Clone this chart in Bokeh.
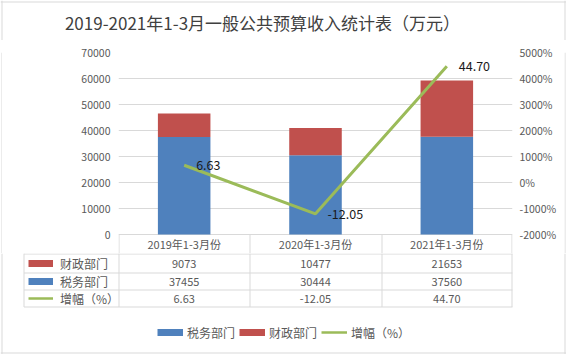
from bokeh.plotting import figure
from bokeh.layouts import column, row
from bokeh.models import (Range1d, LinearAxis, FixedTicker, ColumnDataSource, LabelSet, Label,
                          Legend, LegendItem, Span, NumeralTickFormatter)
from bokeh.core.properties import value
from bokeh.embed import file_html
from bokeh.resources import INLINE

# ---------------- data ----------------
title_text = "2019-2021年1-3月一般公共预算收入统计表（万元）"
categories = ["2019年1-3月份", "2020年1-3月份", "2021年1-3月份"]
tax = [37455, 30444, 37560]          # 税务部门
finance = [9073, 10477, 21653]       # 财政部门
growth = [6.63, -12.05, 44.70]       # 增幅（%）
name_tax = "税务部门"
name_fin = "财政部门"
name_growth = "增幅（%）"
left_ticks = [0, 10000, 20000, 30000, 40000, 50000, 60000, 70000]
right_ticks = [-20, -10, 0, 10, 20, 30, 40, 50]   # shown as percent

# ---------------- layout (pixels) ----------------
W, H = 566, 354
FL, FR, FT, FB = 118, 512, 52, 234      # chart frame (value area)
TITLE_H = 40
TABLE_TOP = 253                          # bottom of header row
FONT = "Noto Sans CJK SC"
BLUE, RED, GREEN = "#4F81BD", "#C0504D", "#9BBB59"
GREY_TXT = "#595959"
GRID = "#D9D9D9"
BORDER = "#D9D9D9"

n = len(categories)
xs = list(range(n))


def X(px):
    return -0.5 + (px - FL) * n / (FR - FL)


def Y(py):
    return (FB - py) * (left_ticks[-1] - left_ticks[0]) / (FB - FT)


def YP(py):
    return right_ticks[0] + (FB - py) * (right_ticks[-1] - right_ticks[0]) / (FB - FT)


def blank_fig(w, h, xr, yr):
    f = figure(width=w, height=h, x_range=xr, y_range=yr, output_backend="svg",
               toolbar_location=None, x_axis_location=None, y_axis_location=None,
               min_border_left=0, min_border_right=0, min_border_top=0,
               min_border_bottom=0, background_fill_color="white",
               border_fill_color="white")
    f.outline_line_color = None
    f.grid.visible = False
    return f


# ---------------- title ----------------
tf = blank_fig(W, TITLE_H, Range1d(0, W), Range1d(TITLE_H, 0))
tf.add_layout(Label(x=262, y=22, text=title_text, text_align="center",
                    text_baseline="middle", text_font=FONT, text_font_size="17px",
                    text_color="#404040"))
tf.add_layout(Span(location=1.5, dimension="width", line_color=BORDER, line_width=1))
tf.add_layout(Span(location=1.5, dimension="height", line_color=BORDER, line_width=1))
tf.add_layout(Span(location=W - 1.5, dimension="height", line_color=BORDER, line_width=1))

# ---------------- chart ----------------
CH = TABLE_TOP - TITLE_H
STRIP = 2
p = figure(width=W - 2 * STRIP, height=CH, x_range=Range1d(-0.5, n - 0.5),
           y_range=Range1d(Y(TABLE_TOP), left_ticks[-1]),
           output_backend="svg", toolbar_location=None, x_axis_location=None,
           min_border_left=FL - STRIP, min_border_right=W - STRIP - FR,
           min_border_top=FT - TITLE_H, min_border_bottom=0,
           background_fill_color="white", border_fill_color="white")
p.outline_line_color = None
p.xgrid.visible = False
p.ygrid.ticker = FixedTicker(ticks=left_ticks)
p.ygrid.grid_line_color = GRID

p.yaxis.ticker = FixedTicker(ticks=left_ticks)
p.yaxis.formatter = NumeralTickFormatter(format="0")
p.extra_y_ranges = {"pct": Range1d(YP(TABLE_TOP), right_ticks[-1])}
raxis = LinearAxis(y_range_name="pct", ticker=FixedTicker(ticks=right_ticks),
                   formatter=NumeralTickFormatter(format="0%"))
p.add_layout(raxis, "right")
for ax in (p.yaxis[0], raxis):
    ax.axis_line_color = None
    ax.major_tick_line_color = None
    ax.minor_tick_line_color = None
    ax.major_tick_out = 0
    ax.major_tick_in = 0
    ax.minor_tick_out = 0
    ax.major_label_text_color = GREY_TXT
    ax.major_label_text_font = FONT
    ax.major_label_text_font_size = "10.5px"
p.yaxis[0].major_label_standoff = 8
raxis.major_label_standoff = 7

src = ColumnDataSource(dict(x=xs, tax=tax, finance=finance, growth=growth,
                            growth_txt=[f"{g:.2f}" for g in growth]))
r_tax, r_fin = p.vbar_stack(["tax", "finance"], x="x", width=0.4, color=[BLUE, RED],
                            line_color=None, source=src)
r_line = p.line(x="x", y="growth", y_range_name="pct", line_color=GREEN,
                line_width=3, source=src)
p.add_layout(LabelSet(x="x", y="growth", text="growth_txt", y_range_name="pct",
                      x_offset=12, text_baseline="middle", text_align="left",
                      text_font=value(FONT), text_font_size="12.5px",
                      text_color="#1a1a1a", source=src))

# header row of the data table (category labels)
col_edges = [round(FL + (FR - FL) * i / n) + 0.5 for i in range(n + 1)]
col_edges[-1] = FR - 0.5
hdr_src = ColumnDataSource(dict(x=xs, y=[Y((FB + TABLE_TOP) / 2)] * n, text=categories))
p.text(x="x", y="y", text="text", source=hdr_src, text_align="center",
       text_baseline="middle", text_font=value(FONT), text_font_size="11px",
       text_color=GREY_TXT)
p.segment(x0=[X(c) for c in col_edges], x1=[X(c) for c in col_edges],
          y0=[Y(FB)] * len(col_edges), y1=[Y(TABLE_TOP + 1)] * len(col_edges),
          line_color=GRID, line_width=1)

sl = blank_fig(STRIP, CH, Range1d(0, STRIP), Range1d(0, 1))
sl.add_layout(Span(location=1.5, dimension="height", line_color=BORDER, line_width=1))
sr = blank_fig(STRIP, CH, Range1d(W - STRIP, W), Range1d(0, 1))
sr.add_layout(Span(location=W - 1.5, dimension="height", line_color=BORDER, line_width=1))

# ---------------- data table rows + legend ----------------
BH = H - TABLE_TOP
bf = blank_fig(W, BH, Range1d(X(0), X(W)), Range1d(H, TABLE_TOP))
row_edges = [253.5, 272.5, 289.5, 306.5]
row_centers = [(row_edges[i] + row_edges[i + 1]) / 2 for i in range(3)]
LEFT_COL = 23.5

vals_x, vals_y, vals_t = [], [], []
for ri, rowvals in enumerate([[str(v) for v in finance], [str(v) for v in tax],
                              [f"{g:.2f}" for g in growth]]):
    for ci, t in enumerate(rowvals):
        vals_x.append(xs[ci])
        vals_y.append(row_centers[ri])
        vals_t.append(t)
val_src = ColumnDataSource(dict(x=vals_x, y=vals_y, text=vals_t))
bf.text(x="x", y="y", text="text", source=val_src, text_align="center",
        text_baseline="middle", text_font=value(FONT), text_font_size="11px",
        text_color=GREY_TXT)

hx0 = [X(LEFT_COL)] * len(row_edges)
hx1 = [X(FR)] * len(row_edges)
vx = [X(LEFT_COL)] + [X(c) for c in col_edges]
bf.segment(x0=hx0, x1=hx1, y0=row_edges, y1=row_edges, line_color=GRID, line_width=1)
bf.segment(x0=vx, x1=vx, y0=[TABLE_TOP] * len(vx), y1=[row_edges[-1]] * len(vx),
           line_color=GRID, line_width=1)

# legend key renderers (single-point lines: nothing drawn in the plot itself)
k_fin = bf.line(x=[xs[0]], y=[row_centers[0]], line_color=RED, line_width=7)
k_tax = bf.line(x=[xs[0]], y=[row_centers[1]], line_color=BLUE, line_width=7)
k_grw = bf.line(x=[xs[0]], y=[row_centers[2]], line_color=GREEN, line_width=2.5)

LH = 18


def make_legend(items, x_left, cy, orientation="vertical", spacing=4, standoff=7, gw=25):
    lg = Legend(items=items, orientation=orientation,
                location=(x_left, H - (cy + LH / 2)),
                padding=0, margin=0, spacing=spacing, border_line_color=None,
                background_fill_alpha=0, glyph_width=gw, glyph_height=LH,
                label_height=LH, label_standoff=standoff, label_text_font=FONT,
                label_text_font_size="12px", label_text_color=GREY_TXT)
    bf.add_layout(lg, "center")
    return lg


make_legend([LegendItem(label=name_fin, renderers=[k_fin])], 28, row_centers[0])
make_legend([LegendItem(label=name_tax, renderers=[k_tax])], 28, row_centers[1])
make_legend([LegendItem(label=name_growth, renderers=[k_grw])], 28, row_centers[2])

make_legend([LegendItem(label=name_tax, renderers=[k_tax]),
             LegendItem(label=name_fin, renderers=[k_fin]),
             LegendItem(label=name_growth, renderers=[k_grw])],
            157, 332, orientation="horizontal", spacing=4, standoff=4, gw=26)

bf.add_layout(Span(location=X(1.5), dimension="height", line_color=BORDER, line_width=1))
bf.add_layout(Span(location=X(W - 1.5), dimension="height", line_color=BORDER, line_width=1))
bf.add_layout(Span(location=H - 1.5, dimension="width", line_color=BORDER, line_width=1))

layout = column(tf, row(sl, p, sr), bf)
open("out.html", "w").write(file_html(layout, INLINE))
